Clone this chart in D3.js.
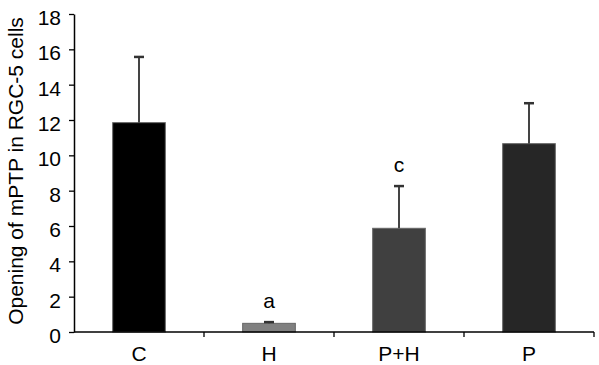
<html>
  <meta charset="utf-8" />
  <script src="https://d3js.org/d3.v7.min.js"></script>
  <style>
    body { margin: 0; background: #fff; }
    text { font-family: "Liberation Sans", Arial, sans-serif; }
  </style>
  <body>
    <svg width="599" height="365" id="chart"></svg>
    <script>
      const groups = ["C", "H", "P+H", "P"];
      const means = [11.85, 0.49, 5.87, 10.66];
      const errors = [3.72, 0.07, 2.39, 2.29];
      const letters = ["", "a", "c", ""];
      const fills = ["#000000", "#808080", "#404040", "#262626"];
      const yTicks = [0, 2, 4, 6, 8, 10, 12, 14, 16, 18];

      const svg = d3.select("#chart");

      const x = d3.scaleBand().domain(groups).range([74, 594]).padding(0);
      const y = d3.scaleLinear().domain([0, 18]).range([332, 14]);
      const barW = x.bandwidth() * 0.405;

      // y axis
      const yAxis = svg
        .append("g")
        .attr("transform", "translate(74,0)")
        .call(d3.axisLeft(y).tickValues(yTicks).tickSize(5).tickSizeOuter(0).tickPadding(8));
      yAxis.select(".domain").attr("stroke", "#000").attr("stroke-width", 1.5);
      yAxis.selectAll(".tick line").attr("stroke", "#000").attr("stroke-width", 1.3);
      yAxis.selectAll(".tick text").attr("font-size", 21).attr("fill", "#000")
        .attr("dy", "0.5em")
        .attr("font-family", "Liberation Sans, Arial, sans-serif");

      // bars
      svg
        .selectAll("rect.bar")
        .data(groups)
        .enter()
        .append("rect")
        .attr("class", "bar")
        .attr("x", (d) => x(d) + (x.bandwidth() - barW) / 2)
        .attr("y", (d, i) => y(means[i]))
        .attr("width", barW)
        .attr("height", (d, i) => y(0) - y(means[i]))
        .attr("fill", (d, i) => fills[i])
        .attr("stroke", "#666")
        .attr("stroke-width", 1);

      // error bars
      const eb = svg.append("g");
      groups.forEach((g, i) => {
        const cx = x(g) + x.bandwidth() / 2;
        eb.append("line")
          .attr("x1", cx).attr("x2", cx)
          .attr("y1", y(means[i])).attr("y2", y(means[i] + errors[i]))
          .attr("stroke", "#444").attr("stroke-width", 2);
        eb.append("line")
          .attr("x1", cx - 5).attr("x2", cx + 5)
          .attr("y1", y(means[i] + errors[i])).attr("y2", y(means[i] + errors[i]))
          .attr("stroke", "#333").attr("stroke-width", 2.5);
        if (letters[i]) {
          eb.append("text")
            .attr("x", cx)
            .attr("y", y(means[i] + errors[i]) - 14)
            .attr("text-anchor", "middle")
            .attr("font-size", 21)
            .text(letters[i]);
        }
      });

      // x axis
      const xa = svg.append("g");
      xa.append("line")
        .attr("x1", 74).attr("x2", 594)
        .attr("y1", y(0)).attr("y2", y(0))
        .attr("stroke", "#000").attr("stroke-width", 1.5);
      groups.forEach((g) => {
        const bx = x(g) + x.bandwidth();
        xa.append("line")
          .attr("x1", bx).attr("x2", bx)
          .attr("y1", y(0)).attr("y2", y(0) + 5)
          .attr("stroke", "#000").attr("stroke-width", 1.3);
        xa.append("text")
          .attr("x", x(g) + x.bandwidth() / 2)
          .attr("y", 361)
          .attr("text-anchor", "middle")
          .attr("font-size", 21)
          .text(g);
      });

      // y title
      svg
        .append("text")
        .attr("transform", "translate(23,171) rotate(-90)")
        .attr("text-anchor", "middle")
        .attr("font-size", 21)
        .text("Opening of mPTP in RGC-5 cells");
    </script>
  </body>
</html>
